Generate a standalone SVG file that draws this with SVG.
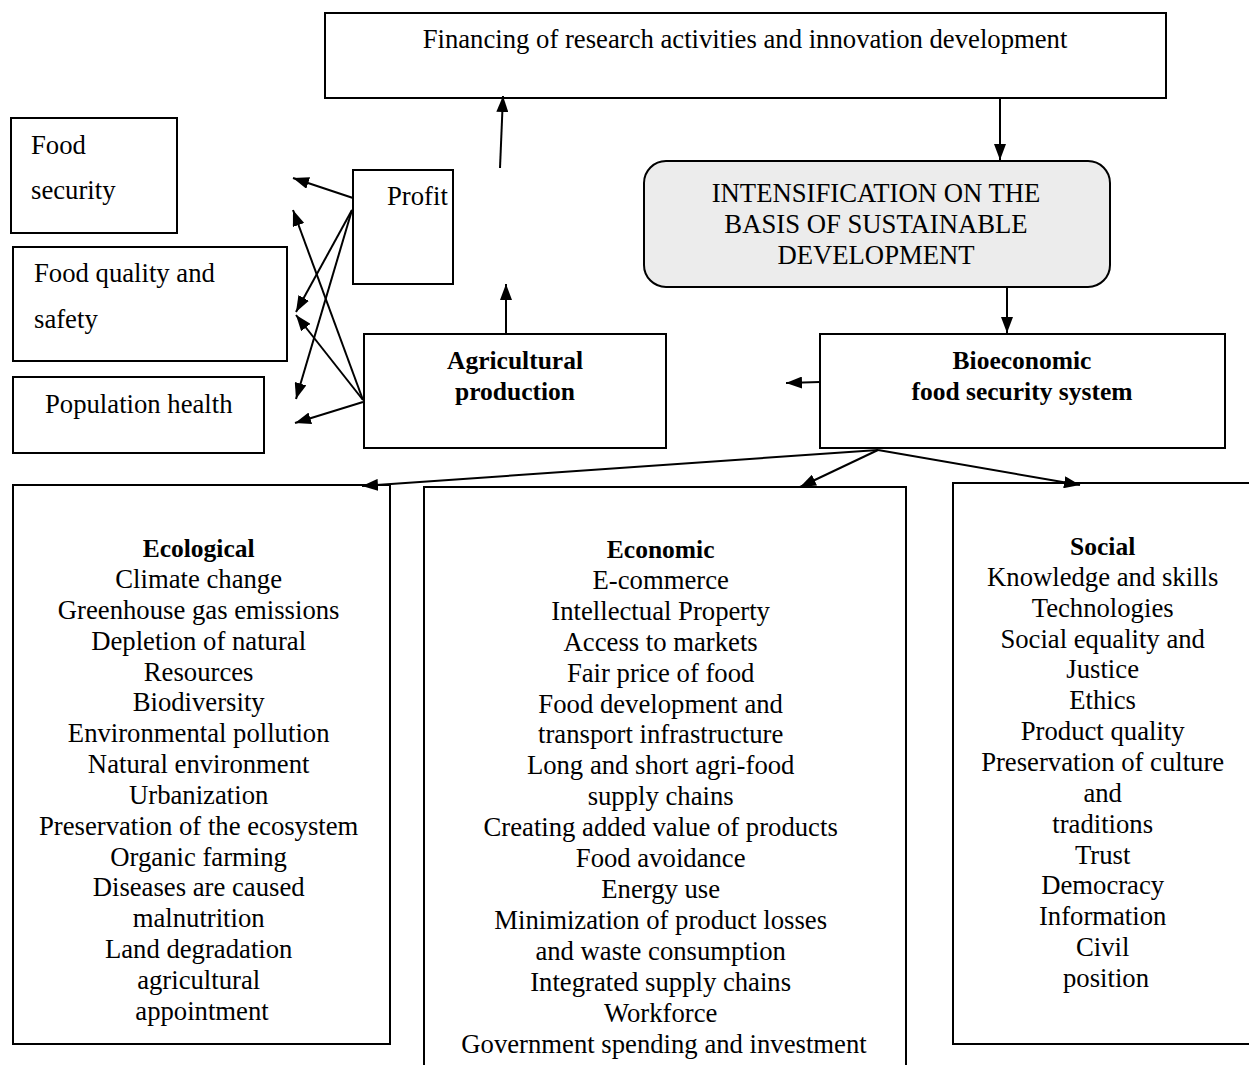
<svg xmlns="http://www.w3.org/2000/svg" width="1249" height="1065" viewBox="0 0 1249 1065">
<style>
text{font-family:"Liberation Serif","Times New Roman","DejaVu Serif",serif;font-size:26.7px;fill:#000}
.c{text-anchor:middle}
.b{font-weight:bold;font-size:25.5px}
.box{fill:#fff;stroke:#000;stroke-width:2}
.ln{stroke:#000;stroke-width:2;fill:none}
</style>
<defs>
<marker id="a" viewBox="0 0 16 12" refX="16" refY="6" markerWidth="16" markerHeight="12" orient="auto" markerUnits="userSpaceOnUse">
<path d="M0,0 L16,6 L0,12 z" fill="#000"/>
</marker>
</defs>
<rect width="1249" height="1065" fill="#fff"/>

<g id="financing">
<rect class="box" x="325" y="13" width="841" height="85"/>
<text class="c" x="745" y="48">Financing of research activities and innovation development</text>
</g>
<g id="food-security">
<rect class="box" x="11" y="118" width="166" height="115"/>
<text x="31" y="154">Food</text>
<text x="31" y="199">security</text>
</g>
<g id="food-quality">
<rect class="box" x="13" y="247" width="274" height="114"/>
<text x="34" y="282">Food quality and</text>
<text x="34" y="328">safety</text>
</g>
<g id="population-health">
<rect class="box" x="13" y="377" width="251" height="76"/>
<text x="45" y="413">Population health</text>
</g>
<g id="profit">
<rect class="box" x="353" y="170" width="100" height="114"/>
<text x="387" y="205">Profit</text>
</g>
<g id="agricultural-production">
<rect class="box" x="364" y="334" width="302" height="114"/>
<text class="c b" x="515" y="369">Agricultural</text>
<text class="c b" x="515" y="400">production</text>
</g>
<g id="intensification">
<rect x="644" y="161" width="466" height="126" rx="22" fill="#ececec" stroke="#000" stroke-width="2"/>
<text class="c" x="876" y="202">INTENSIFICATION ON THE</text>
<text class="c" x="876" y="233">BASIS OF SUSTAINABLE</text>
<text class="c" x="876" y="264">DEVELOPMENT</text>
</g>
<g id="bioeconomic">
<rect class="box" x="820" y="334" width="405" height="114"/>
<text class="c b" x="1022" y="369">Bioeconomic</text>
<text class="c b" x="1022" y="400">food security system</text>
</g>
<g id="ecological">
<rect class="box" x="13" y="485" width="377" height="559"/>
<text class="c" x="202">
<tspan class="b" x="202" y="557">Ecological</tspan>
<tspan x="202" y="588">Climate change</tspan>
<tspan x="202" y="619">Greenhouse gas emissions</tspan>
<tspan x="202" y="650">Depletion of natural</tspan>
<tspan x="202" y="681">Resources</tspan>
<tspan x="202" y="711">Biodiversity</tspan>
<tspan x="202" y="742">Environmental pollution</tspan>
<tspan x="202" y="773">Natural environment</tspan>
<tspan x="202" y="804">Urbanization</tspan>
<tspan x="202" y="835">Preservation of the ecosystem</tspan>
<tspan x="202" y="866">Organic farming</tspan>
<tspan x="202" y="896">Diseases are caused</tspan>
<tspan x="202" y="927">malnutrition</tspan>
<tspan x="202" y="958">Land degradation</tspan>
<tspan x="202" y="989">agricultural</tspan>
<tspan x="202" y="1020">appointment</tspan>
</text>
</g>
<g id="economic">
<rect class="box" x="424" y="487" width="482" height="590"/>
<text class="c" x="664">
<tspan class="b" x="664" y="558">Economic</tspan>
<tspan x="664" y="589">E-commerce</tspan>
<tspan x="664" y="620">Intellectual Property</tspan>
<tspan x="664" y="651">Access to markets</tspan>
<tspan x="664" y="682">Fair price of food</tspan>
<tspan x="664" y="713">Food development and</tspan>
<tspan x="664" y="743">transport infrastructure</tspan>
<tspan x="664" y="774">Long and short agri-food</tspan>
<tspan x="664" y="805">supply chains</tspan>
<tspan x="664" y="836">Creating added value of products</tspan>
<tspan x="664" y="867">Food avoidance</tspan>
<tspan x="664" y="898">Energy use</tspan>
<tspan x="664" y="929">Minimization of product losses</tspan>
<tspan x="664" y="960">and waste consumption</tspan>
<tspan x="664" y="991">Integrated supply chains</tspan>
<tspan x="664" y="1022">Workforce</tspan>
<tspan x="664" y="1053">Government spending and investment</tspan>
</text>
</g>
<g id="social">
<rect class="box" x="953" y="483" width="310" height="561"/>
<text class="c" x="1106">
<tspan class="b" x="1106" y="555">Social</tspan>
<tspan x="1106" y="586">Knowledge and skills</tspan>
<tspan x="1106" y="617">Technologies</tspan>
<tspan x="1106" y="648">Social equality and</tspan>
<tspan x="1106" y="678">Justice</tspan>
<tspan x="1106" y="709">Ethics</tspan>
<tspan x="1106" y="740">Product quality</tspan>
<tspan x="1106" y="771">Preservation of culture</tspan>
<tspan x="1106" y="802">and</tspan>
<tspan x="1106" y="833">traditions</tspan>
<tspan x="1106" y="864">Trust</tspan>
<tspan x="1106" y="894">Democracy</tspan>
<tspan x="1106" y="925">Information</tspan>
<tspan x="1106" y="956">Civil</tspan>
<tspan x="1106" y="987">position</tspan>
</text>
</g>

<g id="connectors" class="ln">
<line x1="1000" y1="98" x2="1000" y2="160" marker-end="url(#a)"/>
<line x1="500" y1="168" x2="503" y2="96" marker-end="url(#a)"/>
<line x1="1007" y1="287" x2="1007" y2="333" marker-end="url(#a)"/>
<line x1="506" y1="333" x2="506" y2="284" marker-end="url(#a)"/>
<line x1="820" y1="382" x2="786" y2="383" marker-end="url(#a)"/>
<line x1="353" y1="198" x2="293" y2="178" marker-end="url(#a)"/>
<line x1="352" y1="210" x2="296" y2="312" marker-end="url(#a)"/>
<line x1="352" y1="210" x2="296" y2="399" marker-end="url(#a)"/>
<line x1="363" y1="400" x2="293" y2="210" marker-end="url(#a)"/>
<line x1="363" y1="400" x2="296" y2="315" marker-end="url(#a)"/>
<line x1="363" y1="402" x2="295" y2="423" marker-end="url(#a)"/>
<line x1="878" y1="450" x2="362" y2="486" marker-end="url(#a)"/>
<line x1="878" y1="450" x2="800" y2="487" marker-end="url(#a)"/>
<line x1="878" y1="450" x2="1080" y2="485" marker-end="url(#a)"/>
</g>
</svg>
